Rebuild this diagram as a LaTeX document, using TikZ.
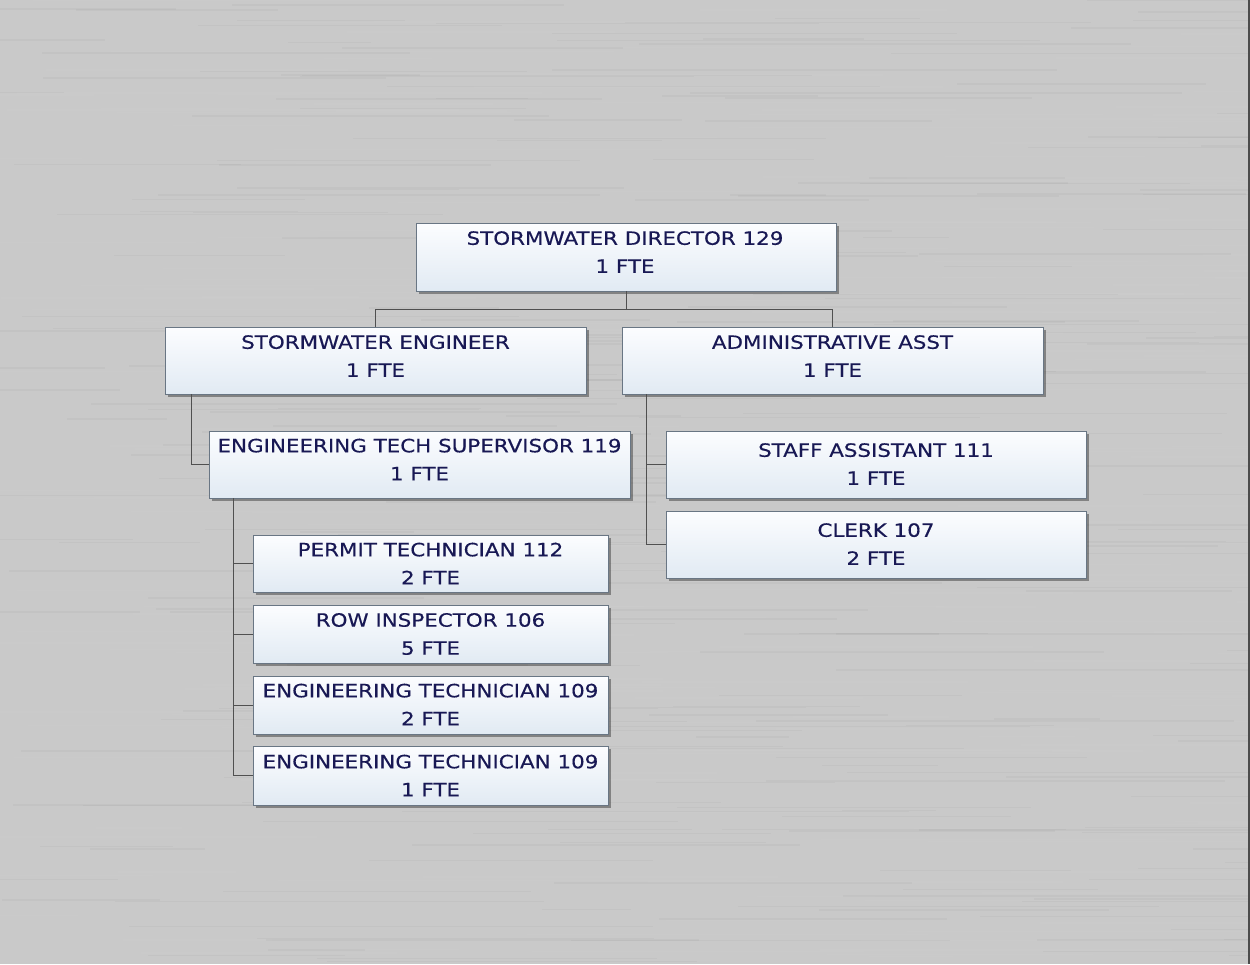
\documentclass[tikz,border=0pt]{standalone}
\usepackage{fontspec}
\setmainfont{DejaVu Sans}[FakeStretch=1.17,FakeBold=0.4]
\usetikzlibrary{shadows,calc}
\definecolor{bggray}{RGB}{201,201,201}
\definecolor{boxline}{RGB}{105,118,132}
\definecolor{boxtop}{RGB}{252,253,255}
\definecolor{boxbot}{RGB}{225,234,243}
\definecolor{navy}{RGB}{24,24,84}
\definecolor{connc}{RGB}{80,80,80}
\tikzset{
  orgbox/.style={draw=boxline, line width=0.9pt, top color=boxtop, bottom color=boxbot,
    drop shadow={shadow xshift=3pt, shadow yshift=-3pt, fill=black, opacity=0.35},
    inner sep=0pt, anchor=center},
  orgtext/.style={text=navy, align=center, inner sep=0pt,
    font=\fontsize{18.3}{28}\selectfont},
  conn/.style={draw=connc, line width=1pt}
}
\begin{document}
\begin{tikzpicture}[x=1pt,y=-1pt]
\useasboundingbox (0,0) rectangle (1250,964);
\fill[bggray] (0,0) rectangle (1250,964);
\begin{scope}
\clip (0,0) rectangle (1250,964);
\pgfmathsetseed{11}
\foreach \i in {1,...,500}{
  \pgfmathsetmacro\yy{rnd*964}
  \pgfmathsetmacro\xx{rnd*1300-50}
  \pgfmathsetmacro\ll{80+rnd*450}
  \pgfmathsetmacro\cc{rnd}
  \ifdim\cc pt<0.5pt \def\col{black}\else\def\col{white}\fi
  \draw[\col, opacity=0.028, line width=1.4pt] (\xx,\yy) -- ++(\ll,0);
}
\end{scope}
\draw[black!70, line width=2pt] (1249,0) -- (1249,964);

% boxes
\node[orgbox, minimum width=420pt, minimum height=68pt] (dir) at (626,257) {};
\node[orgbox, minimum width=421pt, minimum height=67pt] (eng) at (375.5,360.5) {};
\node[orgbox, minimum width=421pt, minimum height=67pt] (adm) at (832.5,360.5) {};
\node[orgbox, minimum width=421pt, minimum height=67pt] (sup) at (419.5,464.5) {};
\node[orgbox, minimum width=420pt, minimum height=67pt] (staff) at (876,464.5) {};
\node[orgbox, minimum width=420pt, minimum height=67pt] (clerk) at (876,544.5) {};
\node[orgbox, minimum width=355pt, minimum height=57pt] (pt) at (430.5,563.5) {};
\node[orgbox, minimum width=355pt, minimum height=58pt] (row) at (430.5,634) {};
\node[orgbox, minimum width=355pt, minimum height=58pt] (et2) at (430.5,705) {};
\node[orgbox, minimum width=355pt, minimum height=59pt] (et1) at (430.5,775.5) {};

% texts
\node[orgtext] (tdir) at (625,252) {STORMWATER DIRECTOR 129\\1 FTE};
\node[orgtext] (teng) at (375.5,356) {STORMWATER ENGINEER\\1 FTE};
\node[orgtext] (tadm) at (832.5,356) {ADMINISTRATIVE ASST\\1 FTE};
\node[orgtext] (tsup) at (419.5,459.5) {ENGINEERING TECH SUPERVISOR 119\\1 FTE};
\node[orgtext] (tstaff) at (876,464) {STAFF ASSISTANT 111\\1 FTE};
\node[orgtext] (tclerk) at (876,544) {CLERK 107\\2 FTE};
\node[orgtext] (tpt) at (430.5,563.5) {PERMIT TECHNICIAN 112\\2 FTE};
\node[orgtext] (trow) at (430.5,634) {ROW INSPECTOR 106\\5 FTE};
\node[orgtext] (tet2) at (430.5,704.5) {ENGINEERING TECHNICIAN 109\\2 FTE};
\node[orgtext] (tet1) at (430.5,775.5) {ENGINEERING TECHNICIAN 109\\1 FTE};

% connectors
\coordinate (bus) at ($(dir.south)+(0,18)$);
\draw[conn] (dir.south) -- (bus) -| (eng.north);
\draw[conn] (bus) -| (adm.north);
\draw[conn] ([xshift=27pt]eng.south west) |- (sup.west);
\draw[conn] ([xshift=25pt]sup.south west) |- (pt.west);
\draw[conn] ([xshift=25pt]sup.south west) |- (row.west);
\draw[conn] ([xshift=25pt]sup.south west) |- (et2.west);
\draw[conn] ([xshift=25pt]sup.south west) |- (et1.west);
\draw[conn] ([xshift=25pt]adm.south west) |- (staff.west);
\draw[conn] ([xshift=25pt]adm.south west) |- (clerk.west);
\end{tikzpicture}
\end{document}
